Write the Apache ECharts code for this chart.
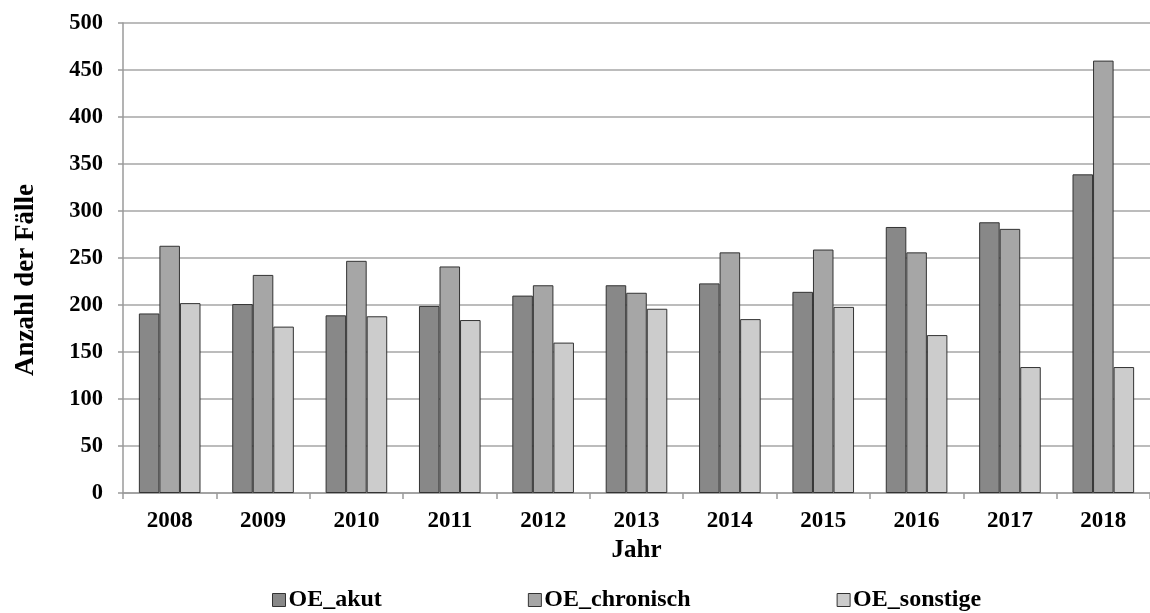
<!DOCTYPE html>
<html>
<head>
<meta charset="utf-8">
<script src="https://cdn.jsdelivr.net/npm/echarts@6/dist/echarts.min.js"></script>
<style>
  html, body { margin: 0; padding: 0; background: #fff; }
  #chart { width: 1150px; height: 613px; }
</style>
</head>
<body>
<div id="chart"></div>
<script>
// Fallzahlen pro Jahr, getrennt nach Kategorie
const years = ['2008', '2009', '2010', '2011', '2012', '2013', '2014', '2015', '2016', '2017', '2018'];
const oeAkut      = [191, 201, 189, 199, 210, 221, 223, 214, 283, 288, 339];
const oeChronisch = [263, 232, 247, 241, 221, 213, 256, 259, 256, 281, 460];
const oeSonstige  = [202, 177, 188, 184, 160, 196, 185, 198, 168, 134, 134];
const yTicks = { min: 0, max: 500, interval: 50 };

const font = 'Liberation Serif, Times New Roman, serif';
const borderCol = '#333333';

function barSeries(name, data, color) {
  return {
    name: name,
    type: 'bar',
    data: data,
    barWidth: '22%',
    barGap: '0%',
    itemStyle: { color: color, borderColor: borderCol, borderWidth: 1 }
  };
}

const chart = echarts.init(document.getElementById('chart'), null, { renderer: 'canvas' });
chart.setOption({
  animation: false,
  backgroundColor: '#ffffff',
  textStyle: { fontFamily: font },
  grid: { left: 123, right: -10, top: 23, bottom: 120, containLabel: false },
  legend: {
    bottom: -4,
    left: 267,
    itemWidth: 13,
    itemHeight: 13,
    itemGap: 146,
    icon: 'rect',
    itemStyle: { borderColor: borderCol, borderWidth: 1 },
    textStyle: { fontFamily: font, fontWeight: 'bold', fontSize: 24, color: '#000', padding: [0, 0, 0, -2] },
    data: ['OE_akut', 'OE_chronisch', 'OE_sonstige']
  },
  xAxis: {
    type: 'category',
    data: years,
    name: 'Jahr',
    nameLocation: 'middle',
    nameGap: 43,
    nameTextStyle: { fontFamily: font, fontWeight: 'bold', fontSize: 25, color: '#000' },
    axisLine: { lineStyle: { color: '#9a9a9a', width: 1.5 } },
    axisTick: { show: true, length: 6, alignWithLabel: false, lineStyle: { color: '#9a9a9a', width: 1.5 } },
    axisLabel: { fontFamily: font, fontWeight: 'bold', fontSize: 23, color: '#000', margin: 17 },
    splitLine: { show: false }
  },
  yAxis: {
    type: 'value',
    min: yTicks.min,
    max: yTicks.max,
    interval: yTicks.interval,
    name: 'Anzahl der Fälle',
    nameLocation: 'middle',
    nameGap: 83,
    nameRotate: 90,
    nameTextStyle: { fontFamily: font, fontWeight: 'bold', fontSize: 27, color: '#000', padding: [0, 44, 0, 0] },
    axisLine: { show: true, lineStyle: { color: '#9a9a9a', width: 1.5 } },
    axisTick: { show: true, inside: false, length: 5, lineStyle: { color: '#9a9a9a', width: 1.5 } },
    axisLabel: { fontFamily: font, fontWeight: 'bold', fontSize: 22.5, color: '#000', margin: 20 },
    splitLine: { show: true, lineStyle: { color: '#a6a6a6', width: 1.5 } }
  },
  series: [
    barSeries('OE_akut', oeAkut, '#888888'),
    barSeries('OE_chronisch', oeChronisch, '#a6a6a6'),
    barSeries('OE_sonstige', oeSonstige, '#cccccc')
  ]
});
</script>
</body>
</html>
